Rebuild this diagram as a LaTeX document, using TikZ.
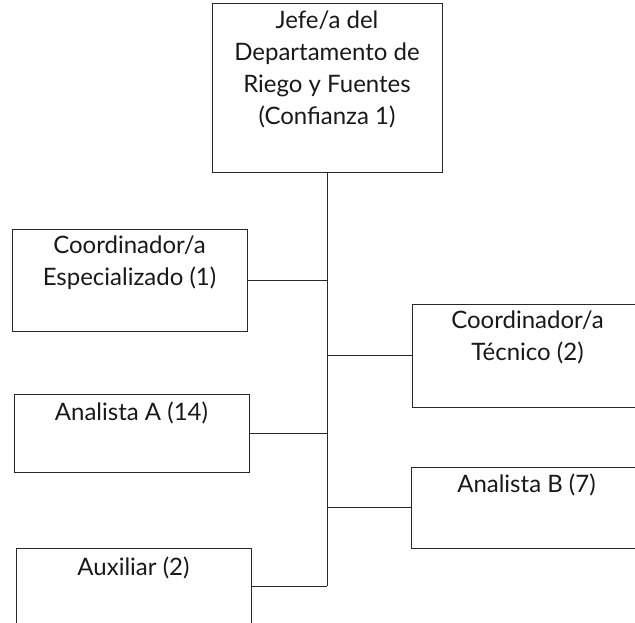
\documentclass[tikz,border=0pt]{standalone}
\usepackage{fontspec}
\setmainfont{Lato}
\usetikzlibrary{positioning}
\definecolor{orglinea}{RGB}{40, 40, 40}
\definecolor{orgtexto}{RGB}{25, 25, 25}

\begin{document}
\begin{tikzpicture}[x=1pt, y=-1pt,
    orgcaja/.style={draw=orglinea, line width=1pt, rectangle, inner sep=0pt},
    orgtexto/.style={font=\fontsize{24}{32}\selectfont, text=orgtexto, align=center, inner sep=0pt},
    orgrama/.style={draw=orglinea, line width=1pt}]

% === Marco ===
\clip (0,0) rectangle (635,623);

% === Cajas ===
\node[orgcaja, minimum width=230pt, minimum height=169pt] (jefe) at (327,88.5) {};
\node[orgcaja, minimum width=235pt, minimum height=102pt] (coordesp) at (129.5,280) {};
\node[orgcaja, minimum width=231pt, minimum height=103pt] (coordtec) at (527.5,355.5) {};
\node[orgcaja, minimum width=235pt, minimum height=78pt] (analistaA) at (131.5,433) {};
\node[orgcaja, minimum width=231pt, minimum height=81pt] (analistaB) at (526.5,507.5) {};
\node[orgcaja, minimum width=235pt, minimum height=76pt] (auxiliar) at (133.5,586) {};

% === Textos ===
\node[orgtexto, below=7pt of jefe.north] (jefe-t) {Jefe/a del\\Departamento de\\Riego y Fuentes\\(Confianza 1)};
\node[orgtexto, below=7pt of coordesp.north] (coordesp-t) {Coordinador/a\\Especializado (1)};
\node[orgtexto, below=7pt of coordtec.north] (coordtec-t) {Coordinador/a\\Técnico (2)};
\node[orgtexto, below=8pt of analistaA.north] (analistaA-t) {Analista A (14)};
\node[orgtexto, below=7pt of analistaB.north] (analistaB-t) {Analista B (7)};
\node[orgtexto, below=9pt of auxiliar.north] (auxiliar-t) {Auxiliar (2)};

% === Tronco y ramas ===
\coordinate (troncofin) at (auxiliar.east -| jefe.south);
\draw[orgrama] (jefe.south) -- (troncofin);
\foreach \b in {coordesp, analistaA, auxiliar} {
    \draw[orgrama] (\b.east) -- (\b.east -| jefe.south);
}
\foreach \b in {coordtec, analistaB} {
    \draw[orgrama] (\b.west) -- (\b.west -| jefe.south);
}

\end{tikzpicture}
\end{document}
